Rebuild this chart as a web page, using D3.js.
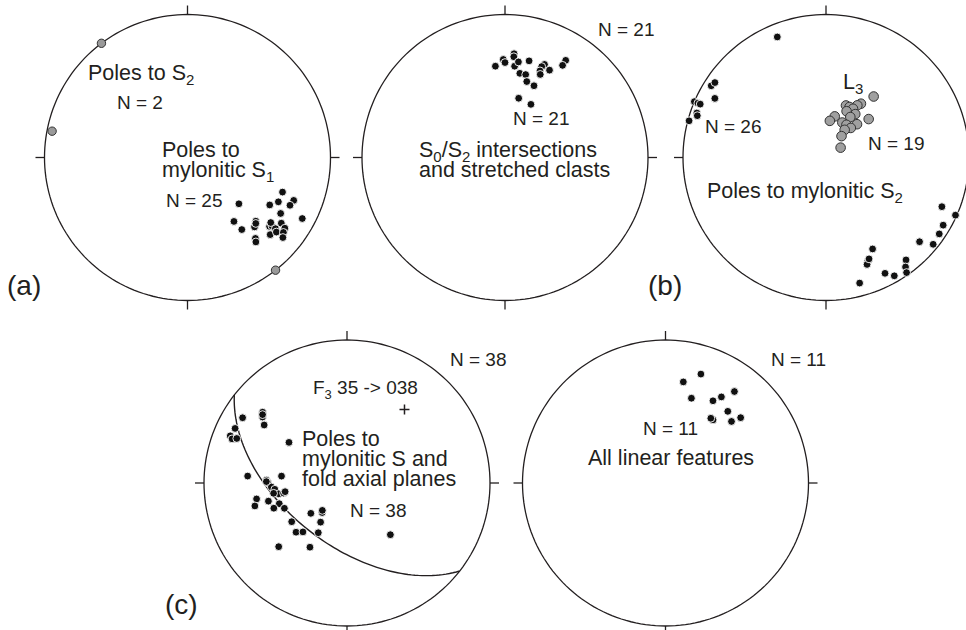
<!DOCTYPE html>
<html>
<head>
<meta charset="utf-8">
<script src="https://cdn.jsdelivr.net/npm/d3@7"></script>
<style>
  body { margin: 0; background: #fff; }
  text { font-family: "Liberation Sans", Arial, sans-serif; fill: #231f20; }
</style>
</head>
<body>
<div id="chart"></div>
<script>
const width = 966;
const height = 630;
const R = 143;

// all orientations are [trend, plunge] in degrees, lower hemisphere equal-area
const polesS2_a = [[323, 0], [281, 4], [142, 0]];
const polesS1_a = [[110, 30], [112, 21], [116, 30], [120, 34], [115, 22], [132, 50], [121, 25], [118, 10],
  [144, 44], [133, 35], [136, 33], [130, 26], [129, 25], [129, 22], [125, 21], [126, 17], [143, 37],
  [133, 22], [130, 20], [128, 16], [130, 14], [140, 27], [141, 25], [134, 34], [128, 27]];

const intersections_b = [[5, 28], [359, 32], [5, 30], [0, 34], [354, 36], [6, 36], [8, 33], [14, 31],
  [32, 21], [32, 25], [23, 30], [22, 32], [22, 35], [27, 32], [23, 37], [10, 40], [14, 40], [16, 44],
  [22, 45], [13, 55], [26, 56]];

const polesS2_b = [[338, 10], [302, 6], [304, 7], [298, 13], [293, 0], [293, 3], [293, 5], [289, 5],
  [288, 6], [285, 1], [113, 13], [114, 1], [120, 6], [124, 5], [132, 13], [129, 4], [153, 29], [158, 23],
  [159, 21], [142, 10], [144, 6], [145, 2], [153, 10], [150, 5], [165, 10], [157, 24]];
const L3_b = [[38, 45], [33, 53], [31, 55], [21, 58], [25, 58], [29, 58], [24, 61], [34, 60], [31, 63],
  [12, 66], [6, 69], [48, 57], [25, 68], [32, 68], [43, 64], [40, 68], [34, 71], [36, 75], [56, 80]];

const polesS_c = [[310, 24], [308, 26], [305, 30], [302, 15], [296, 14], [292, 13], [291, 15], [292, 18],
  [305, 49], [274, 31], [272, 43], [276, 52], [270, 44], [267, 46], [265, 48], [261, 50], [261, 53],
  [262, 47], [260, 36], [257, 43], [253, 49], [256, 34], [251, 45], [248, 51], [230, 63], [220, 68],
  [235, 51], [214, 63], [226, 49], [222, 52], [210, 57], [227, 35], [210, 47], [140, 51], [271, 43],
  [262, 54], [222, 69], [309, 25]];
const foldAxisF3_c = [38, 35];

const linear_d = [[18, 21], [10, 29], [17, 38], [30, 34], [33, 29], [37, 21], [41, 34], [37, 44],
  [35, 44], [47, 37], [49, 31]];

const svg = d3.select("#chart")
    .append("svg")
    .attr("width", width)
    .attr("height", height);

// trend clockwise from north -> longitude on a north-polar azimuthal view
const toGeo = d => [180 - d[0], d[1]];

const makeNet = (cx, cy) => {
  const projection = d3.geoAzimuthalEqualArea()
      .rotate([0, -90])
      .clipAngle(90)
      .precision(0.1)
      .scale(R / Math.SQRT2)
      .translate([cx, cy]);
  const path = d3.geoPath().projection(projection);
  const g = svg.append("g");

  g.append("path")
      .datum({type: "Sphere"})
      .attr("d", path)
      .attr("fill", "none")
      .attr("stroke", "#231f20")
      .attr("stroke-width", 1.3);

  // N, E, S, W ticks
  g.selectAll("line.tick")
      .data([0, 90, 180, 270])
      .join("line")
      .attr("class", "tick")
      .attr("x1", a => cx + R * Math.sin(a * Math.PI / 180))
      .attr("y1", a => cy - R * Math.cos(a * Math.PI / 180))
      .attr("x2", a => cx + (R + 9) * Math.sin(a * Math.PI / 180))
      .attr("y2", a => cy - (R + 9) * Math.cos(a * Math.PI / 180))
      .attr("stroke", "#231f20")
      .attr("stroke-width", 1.3);

  return {g, projection, path};
}

const plotPoints = (net, data, style) => {
  net.g.append("g")
    .selectAll("circle")
    .data(data)
    .join("circle")
    .attr("cx", d => net.projection(toGeo(d))[0])
    .attr("cy", d => net.projection(toGeo(d))[1])
    .attr("r", style.r)
    .attr("fill", style.fill)
    .attr("stroke", style.stroke)
    .attr("stroke-width", style.sw);
}

const blackDot = {r: 3.9, fill: "#111", stroke: "#fff", sw: 0.9};
const greyDot = {r: 4.2, fill: "#9a9a9a", stroke: "#333", sw: 1};
const greyBig = {r: 4.8, fill: "#a0a0a0", stroke: "#333", sw: 1};

// text with subscripts: parts are strings or {sub: "x"}
const label = (x, y, parts, size = 21.5) => {
  const t = svg.append("text").attr("x", x).attr("y", y).attr("font-size", size);
  const subSize = Math.round(size * 0.68);
  let shifted = false;
  parts.forEach(p => {
    if (typeof p === "string") {
      t.append("tspan").attr("dy", shifted ? -5 : 0).text(p);
      shifted = false;
    } else {
      t.append("tspan").attr("dy", 5).attr("font-size", subSize).text(p.sub);
      shifted = true;
    }
  });
}
const nLabel = (x, y, s) => label(x, y, [s], 19);

// (a)
const netA = makeNet(187.5, 157.5);
plotPoints(netA, polesS1_a, blackDot);
plotPoints(netA, polesS2_a, greyDot);
label(88, 80, ["Poles to S", {sub: "2"}]);
nLabel(117, 109, "N = 2");
label(162, 157, ["Poles to"]);
label(162, 177, ["mylonitic S", {sub: "1"}]);
nLabel(166, 207, "N = 25");
label(7, 295, ["(a)"], 28);

// (b) left
const netB1 = makeNet(505, 157.5);
plotPoints(netB1, intersections_b, blackDot);
nLabel(598, 36, "N = 21");
nLabel(513, 125, "N = 21");
label(419, 157, ["S", {sub: "0"}, "/S", {sub: "2"}, " intersections"]);
label(419, 177, ["and stretched clasts"]);

// (b) right
const netB2 = makeNet(826, 157.5);
plotPoints(netB2, polesS2_b, blackDot);
plotPoints(netB2, L3_b, greyBig);
label(843, 89, ["L", {sub: "3"}]);
nLabel(705, 133, "N = 26");
nLabel(868, 150, "N = 19");
label(707, 198, ["Poles to mylonitic S", {sub: "2"}]);
label(648, 295, ["(b)"], 28);

// (c)
const netC = makeNet(347, 483);
// great circle normal to the F3 fold axis
const gc = d3.geoCircle().center(toGeo(foldAxisF3_c)).radius(90)();
netC.g.append("path")
    .datum({type: "LineString", coordinates: gc.coordinates[0]})
    .attr("d", netC.path)
    .attr("fill", "none")
    .attr("stroke", "#231f20")
    .attr("stroke-width", 1.4);
plotPoints(netC, polesS_c, blackDot);
const fa = netC.projection(toGeo(foldAxisF3_c));
netC.g.append("path")
    .attr("d", `M${fa[0] - 5},${fa[1]}h10M${fa[0]},${fa[1] - 5}v10`)
    .attr("stroke", "#231f20")
    .attr("stroke-width", 1.5);
nLabel(450, 366, "N = 38");
label(313, 394, ["F", {sub: "3"}, " 35 -> 038"], 19);
label(302, 446, ["Poles to"]);
label(302, 466, ["mylonitic S and"]);
label(302, 486, ["fold axial planes"]);
nLabel(350, 517, "N = 38");
label(165, 614, ["(c)"], 28);

// (d)
const netD = makeNet(665.5, 483);
plotPoints(netD, linear_d, blackDot);
nLabel(771, 366, "N = 11");
nLabel(643, 435, "N = 11");
label(588, 465, ["All linear features"]);
</script>
</body>
</html>
